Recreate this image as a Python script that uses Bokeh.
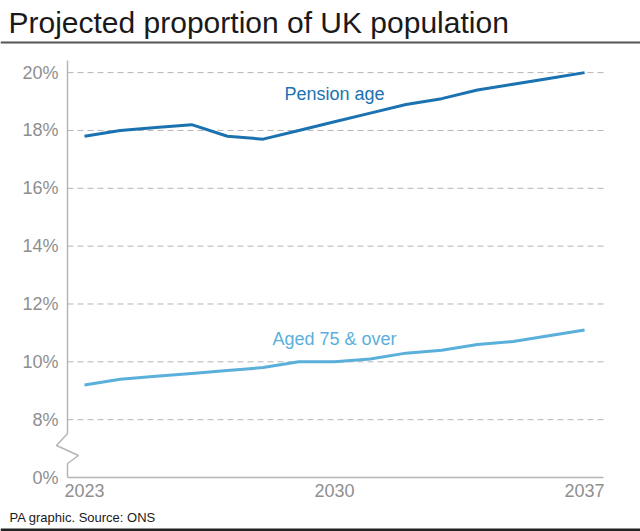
from bokeh.plotting import figure
from bokeh.models import Range1d, FixedTicker, ColumnDataSource
from bokeh.core.properties import value
from bokeh.embed import file_html
from bokeh.resources import INLINE

# ---- data ----
years = list(range(2023, 2038))
pension_age = [17.8, 18.0, 18.1, 18.2, 17.8, 17.7, 18.0, 18.3, 18.6, 18.9, 19.1, 19.4, 19.6, 19.8, 20.0]
aged_75_over = [9.2, 9.4, 9.5, 9.6, 9.7, 9.8, 10.0, 10.0, 10.1, 10.3, 10.4, 10.6, 10.7, 10.9, 11.1]
y_ticks = [6, 8, 10, 12, 14, 16, 18, 20]          # 6 is the broken-axis position of 0%
y_tick_labels = ["0%", "8%", "10%", "12%", "14%", "16%", "18%", "20%"]
x_ticks = [2023, 2030, 2037]
series_names = ["Pension age", "Aged 75 & over"]
title_text = "Projected proportion of UK population"
source_text = "PA graphic. Source: ONS"

FONT = "Liberation Sans"
DARK_BLUE = "#1a72b0"
LIGHT_BLUE = "#5aafdb"
GREY = "#b5b5b5"
TICK_GREY = "#8f8f8f"
W, H = 640, 531

# pixel layout of the chart area (canvas coordinates, y downwards)
PX_YEAR0, PX_PER_YEAR = 84.0, 35.72     # 2023 at x=84
PY_BASE, PX_PER_UNIT = 477.0, 28.92     # axis-position 6 (0%) at y=477
AXIS_PX, GRID_END_PX, AXIS_TOP_PX = 67.0, 603.0, 60.0


def dx(px):
    return years[0] + (px - PX_YEAR0) / PX_PER_YEAR


def dy(py):
    return y_ticks[0] + (PY_BASE - py) / PX_PER_UNIT


p = figure(width=W, height=H, output_backend="svg", toolbar_location=None,
           x_range=Range1d(dx(0), dx(W)), y_range=Range1d(dy(H), dy(0)),
           min_border=0, min_border_left=0, min_border_right=0, min_border_top=0, min_border_bottom=0)
p.outline_line_color = None
p.xgrid.visible = False
p.ygrid.visible = False
p.background_fill_color = "white"
p.border_fill_color = "white"

# y axis: tick labels only, pulled into the canvas
p.yaxis.ticker = FixedTicker(ticks=y_ticks)
p.yaxis.major_label_overrides = {t: l for t, l in zip(y_ticks, y_tick_labels)}
p.yaxis.axis_line_color = None
p.yaxis.major_tick_line_color = None
p.yaxis.minor_tick_line_color = None
p.yaxis.major_tick_out = 0
p.yaxis.major_tick_in = 0
p.yaxis.major_label_standoff = -58
p.yaxis.major_label_text_font = FONT
p.yaxis.major_label_text_font_size = "18px"
p.yaxis.major_label_text_color = TICK_GREY

# x axis: tick labels only, pulled into the canvas
p.xaxis.ticker = FixedTicker(ticks=x_ticks)
p.xaxis.axis_line_color = None
p.xaxis.major_tick_line_color = None
p.xaxis.minor_tick_line_color = None
p.xaxis.major_tick_out = 0
p.xaxis.major_tick_in = 0
p.xaxis.major_label_standoff = -48
p.xaxis.major_label_text_font = FONT
p.xaxis.major_label_text_font_size = "18px"
p.xaxis.major_label_text_color = TICK_GREY

axis_x = dx(AXIS_PX)
grid_end = dx(GRID_END_PX)
y_base = y_ticks[0]

# dashed gridlines
grid_y = y_ticks[1:]
p.segment(x0=[axis_x] * len(grid_y), x1=[grid_end] * len(grid_y), y0=grid_y, y1=grid_y,
          line_color=GREY, line_width=1, line_dash="6 4")
# baseline
p.segment(x0=[axis_x], x1=[grid_end], y0=[y_base], y1=[y_base], line_color=GREY, line_width=1.5)
# y axis line with break
zx = [AXIS_PX, AXIS_PX, AXIS_PX - 11, AXIS_PX + 11, AXIS_PX, AXIS_PX]
zy = [AXIS_TOP_PX, PY_BASE - 44, PY_BASE - 32, PY_BASE - 22, PY_BASE - 14, PY_BASE]
p.line([dx(v) for v in zx], [dy(v) for v in zy], line_color=GREY, line_width=1.5)

# series
src = ColumnDataSource(dict(year=years, pension=pension_age, aged=aged_75_over))
p.line("year", "pension", source=src, line_color=DARK_BLUE, line_width=3)
p.line("year", "aged", source=src, line_color=LIGHT_BLUE, line_width=3)

# series labels
p.text(x=[2030.0], y=[19.25], text=[series_names[0]], text_color=DARK_BLUE, text_align="center",
       text_baseline="middle", text_font=value(FONT), text_font_size="18px")
p.text(x=[2030.0], y=[10.8], text=[series_names[1]], text_color=LIGHT_BLUE, text_align="center",
       text_baseline="middle", text_font=value(FONT), text_font_size="18px")

# header
p.text(x=[dx(8)], y=[dy(22)], text=[title_text], text_font=value(FONT), text_font_size="30px",
       text_color="#1a1a1a", text_baseline="alphabetic")
p.segment(x0=[dx(0)], x1=[dx(W)], y0=[dy(42)], y1=[dy(42)], line_color="#555555", line_width=2)

# footer
p.text(x=[dx(9)], y=[dy(517)], text=[source_text], text_font=value(FONT), text_font_size="13px",
       text_color="#1a1a1a", text_baseline="alphabetic")
p.segment(x0=[dx(0)], x1=[dx(W)], y0=[dy(529.5)], y1=[dy(529.5)], line_color="#222222", line_width=3)

open("out.html", "w").write(file_html(p, INLINE))
